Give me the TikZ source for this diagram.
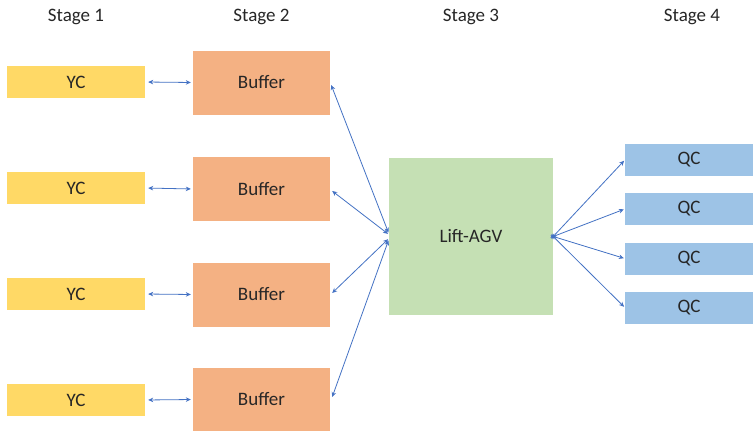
\documentclass[tikz,border=0pt]{standalone}
\usepackage{fontspec}
\setmainfont{Carlito}
\usetikzlibrary{arrows.meta}
\definecolor{ycfill}{HTML}{FFD966}
\definecolor{buffill}{HTML}{F4B183}
\definecolor{liftfill}{HTML}{C5E0B4}
\definecolor{qcfill}{HTML}{9DC3E6}
\definecolor{arrowcol}{HTML}{4472C4}
\definecolor{textcol}{HTML}{262626}
\tikzset{
  box/.style={rectangle, inner sep=0pt, text=textcol, font=\fontsize{19}{23}\selectfont},
  ycbox/.style={box, fill=ycfill, minimum width=138pt, minimum height=32pt},
  bufbox/.style={box, fill=buffill, minimum width=137pt, minimum height=64pt},
  liftbox/.style={box, fill=liftfill, minimum width=164pt, minimum height=157pt},
  qcbox/.style={box, fill=qcfill, minimum width=128pt, minimum height=32pt},
  stagelabel/.style={text=textcol, font=\fontsize{19}{23}\selectfont, inner sep=0pt},
  link/.style={draw=arrowcol, line width=0.8pt, {Stealth[length=5pt,width=4.5pt]}-{Stealth[length=5pt,width=4.5pt]}},
}
\begin{document}
\begin{tikzpicture}[x=1pt,y=-1pt]
\useasboundingbox (0,0) rectangle (753,431);
\fill[white] (0,0) rectangle (753,431);

\node[stagelabel] (s1) at (76,17) {Stage 1};
\node[stagelabel] (s2) at (261.5,17) {Stage 2};
\node[stagelabel] (s3) at (471,17) {Stage 3};
\node[stagelabel] (s4) at (692,17) {Stage 4};

\node[ycbox] (yc1) at (76,82) {YC};
\node[ycbox] (yc2) at (76,188) {YC};
\node[ycbox] (yc3) at (76,294) {YC};
\node[ycbox] (yc4) at (76,400) {YC};

\node[bufbox] (b1) at (261.5,82.5) {Buffer};
\node[bufbox] (b2) at (261.5,189) {Buffer};
\node[bufbox] (b3) at (261.5,294.5) {Buffer};
\node[bufbox] (b4) at (261.5,399.5) {Buffer};

\node[liftbox] (lift) at (471,236.5) {Lift-AGV};

\node[qcbox] (q1) at (689,160) {QC};
\node[qcbox] (q2) at (689,209) {QC};
\node[qcbox] (q3) at (689,258.5) {QC};
\node[qcbox] (q4) at (689,307.5) {QC};

\foreach \i in {1,2,3,4}{
  \draw[link, shorten <=3pt, shorten >=2pt] (yc\i.east) -- (b\i.west);
}

\draw[link, shorten <=1pt] ([yshift=3pt]lift.west) -- ([xshift=1pt,yshift=-2.5pt]b1.east);
\draw[link, shorten <=1pt] ([yshift=2pt]lift.west) -- ([xshift=2pt,yshift=-2pt]b2.east);
\draw[link, shorten <=1pt] ([yshift=-2pt]lift.west) -- ([xshift=2pt,yshift=1.5pt]b3.east);
\draw[link, shorten <=1pt] ([yshift=-3pt]lift.west) -- ([xshift=2pt,yshift=2.5pt]b4.east);

\foreach \i in {1,2,3,4}{
  \draw[link, shorten <=-3pt, shorten >=1pt] (lift.east) -- (q\i.west);
}
\end{tikzpicture}
\end{document}
